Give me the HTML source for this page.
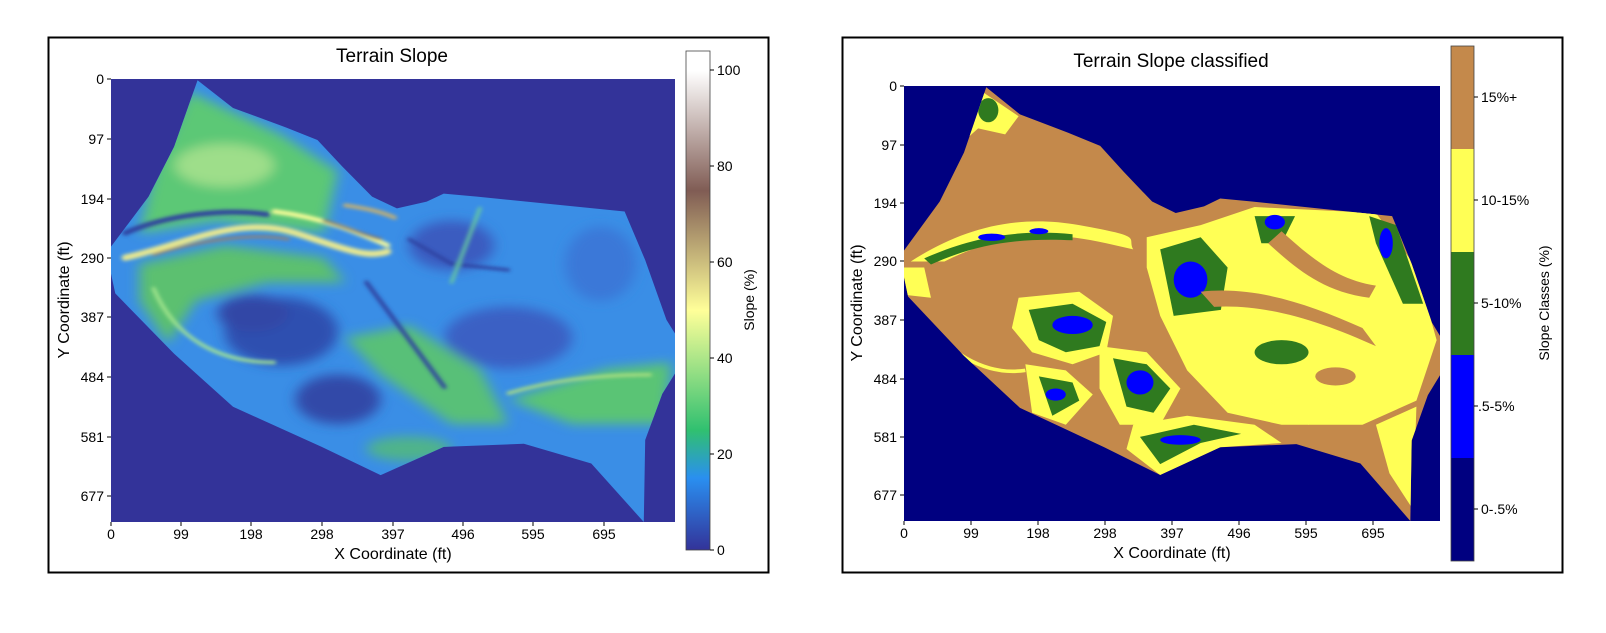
<!DOCTYPE html>
<html><head><meta charset="utf-8"><style>
body{margin:0;background:#fff;width:1606px;height:633px;overflow:hidden;font-family:"Liberation Sans",sans-serif;}
.a{position:absolute;}
</style></head><body>
<svg class="a" style="left:0;top:0" width="1606" height="633">
<rect x="48.5" y="37.5" width="720" height="535" fill="none" stroke="#000" stroke-width="2"/>
<rect x="842.5" y="37.5" width="720" height="535" fill="none" stroke="#000" stroke-width="2"/>
<defs>
<linearGradient id="terr" x1="0" y1="1" x2="0" y2="0">
<stop offset="0" stop-color="#333399"/><stop offset="0.144" stop-color="#2a8ff0"/>
<stop offset="0.24" stop-color="#30c070"/><stop offset="0.48" stop-color="#ffff99"/>
<stop offset="0.72" stop-color="#805c54"/><stop offset="0.96" stop-color="#ffffff"/><stop offset="1" stop-color="#ffffff"/>
</linearGradient>
</defs>
<rect x="686" y="51" width="24" height="499" fill="url(#terr)" stroke="#444" stroke-width="0.8"/>
<g stroke="#000" stroke-width="1">
<line x1="710" y1="550" x2="714" y2="550"/><line x1="710" y1="454" x2="714" y2="454"/>
<line x1="710" y1="358" x2="714" y2="358"/><line x1="710" y1="262" x2="714" y2="262"/>
<line x1="710" y1="166" x2="714" y2="166"/><line x1="710" y1="70" x2="714" y2="70"/>
</g>
<rect x="1451" y="46" width="23" height="103" fill="#c4894b"/>
<rect x="1451" y="149" width="23" height="103" fill="#ffff55"/>
<rect x="1451" y="252" width="23" height="103" fill="#2f7a1f"/>
<rect x="1451" y="355" width="23" height="103" fill="#0000ff"/>
<rect x="1451" y="458" width="23" height="103" fill="#000080"/>
<rect x="1451" y="46" width="23" height="515" fill="none" stroke="#444" stroke-width="0.8"/>
<g stroke="#000" stroke-width="1">
<line x1="1474" y1="97" x2="1478" y2="97"/><line x1="1474" y1="200" x2="1478" y2="200"/>
<line x1="1474" y1="303" x2="1478" y2="303"/><line x1="1474" y1="406" x2="1478" y2="406"/>
<line x1="1474" y1="509" x2="1478" y2="509"/>
</g>
</svg>

<!-- left plot -->
<svg class="a" style="left:111px;top:79px" width="564" height="443" viewBox="0 0 795 719" preserveAspectRatio="none">
<defs>
<clipPath id="sh"><polygon points="122,2 172,47 243,77 291,99 326,142 368,191 403,210 445,199 469,186 516,191 724,215 753,294 783,391 795,413 795,478 777,511 753,586 751,719 677,624 582,592 469,597 380,643 297,597 172,532 89,446 6,348 0,316 0,272 53,191 89,110"/></clipPath>
<filter id="bl"><feGaussianBlur stdDeviation="9"/></filter>
<filter id="bl2"><feGaussianBlur stdDeviation="3"/></filter>
</defs>
<rect width="795" height="719" fill="#333399"/>
<g clip-path="url(#sh)">
<rect width="795" height="719" fill="#3a8ee6"/>
<g filter="url(#bl)">
<polygon points="110,20 240,90 320,150 300,250 150,230 40,250 60,150" fill="#5cc876"/>
<ellipse cx="160" cy="140" rx="70" ry="35" fill="#9ede8a"/>
<polygon points="40,300 160,270 300,290 330,330 220,330 120,360 80,430 40,360" fill="#5cc070"/>
<ellipse cx="240" cy="410" rx="80" ry="55" fill="#2f4fb0"/>
<ellipse cx="200" cy="380" rx="50" ry="30" fill="#3346a6"/>
<ellipse cx="480" cy="270" rx="60" ry="40" fill="#3a5bc0"/>
<ellipse cx="560" cy="420" rx="90" ry="50" fill="#3a60c4"/>
<ellipse cx="320" cy="520" rx="60" ry="40" fill="#3348a8"/>
<polygon points="330,420 420,400 520,470 560,560 480,560 380,480" fill="#58c078"/>
<polygon points="560,520 700,470 790,460 780,560 650,560" fill="#5ac474"/>
<ellipse cx="420" cy="600" rx="60" ry="20" fill="#4fb48a"/>
<ellipse cx="690" cy="300" rx="50" ry="60" fill="#3a78d8"/>
</g>
<g filter="url(#bl2)" fill="none" stroke-linecap="round">
<path d="M20,290 C100,270 180,220 260,250 S360,290 390,280" stroke="#e8e890" stroke-width="10"/>
<path d="M60,285 C130,260 200,250 250,260" stroke="#a08060" stroke-width="4"/>
<path d="M230,215 C300,225 350,250 390,270" stroke="#ffff99" stroke-width="7"/>
<path d="M300,230 C330,240 360,255 380,260" stroke="#8a6a58" stroke-width="4"/>
<path d="M330,205 C360,210 380,215 400,225" stroke="#c8b070" stroke-width="6"/>
<path d="M60,340 C90,420 150,460 230,460" stroke="#a8e890" stroke-width="5"/>
<path d="M20,250 C80,220 160,210 220,220" stroke="#2f3f9f" stroke-width="8"/>
<path d="M360,330 L470,500" stroke="#2f3f9f" stroke-width="6"/>
<path d="M420,260 L480,300 L560,310" stroke="#2f3f9f" stroke-width="5"/>
<path d="M520,210 L480,330" stroke="#66c8a0" stroke-width="5"/>
<path d="M560,510 C620,490 680,480 760,480" stroke="#aee080" stroke-width="5"/>
</g>
</g>
</svg>

<!-- right plot -->
<svg class="a" style="left:904px;top:86px" width="536" height="435" viewBox="0 0 795 719" preserveAspectRatio="none">
<defs>
<clipPath id="sh2"><polygon points="122,2 172,47 243,77 291,99 326,142 368,191 403,210 445,199 469,186 516,191 724,215 753,294 783,391 795,413 795,478 777,511 753,586 751,719 677,624 582,592 469,597 380,643 297,597 172,532 89,446 6,348 0,316 0,272 53,191 89,110"/></clipPath>
</defs>
<rect width="795" height="719" fill="#000080"/>
<g clip-path="url(#sh2)">
<rect width="795" height="719" fill="#c4894b"/>
<polygon points="110,5 170,50 150,80 110,70 80,100 100,40" fill="#ffff55"/>
<ellipse cx="125" cy="40" rx="15" ry="20" fill="#2f7a1f"/>
<path d="M10,290 C80,240 160,210 260,230 S330,250 340,270 L300,260 C220,240 150,240 60,290 Z" fill="#ffff55"/>
<path d="M30,285 C90,255 160,235 250,245 L250,255 C160,250 100,265 40,295 Z" fill="#2f7a1f"/>
<ellipse cx="130" cy="250" rx="20" ry="6" fill="#0000ff"/><ellipse cx="200" cy="240" rx="14" ry="5" fill="#0000ff"/>
<polygon points="0,300 30,300 40,350 0,345" fill="#ffff55"/>
<polygon points="170,350 260,340 310,380 300,440 250,460 190,440 160,400" fill="#ffff55"/>
<polygon points="185,370 250,360 300,390 290,430 240,440 200,420" fill="#2f7a1f"/>
<ellipse cx="250" cy="395" rx="30" ry="15" fill="#0000ff"/>
<polygon points="180,460 240,470 280,510 240,560 190,540" fill="#ffff55"/>
<polygon points="200,480 250,490 260,520 220,545" fill="#2f7a1f"/>
<ellipse cx="225" cy="510" rx="15" ry="10" fill="#0000ff"/>
<polygon points="290,430 360,440 410,500 380,560 320,560 290,500" fill="#ffff55"/>
<polygon points="310,450 360,460 395,500 370,540 330,530" fill="#2f7a1f"/>
<ellipse cx="350" cy="490" rx="20" ry="20" fill="#0000ff"/>
<polygon points="360,250 440,230 520,200 700,210 760,300 790,420 760,520 680,560 560,560 480,540 420,470 380,380 360,300" fill="#ffff55"/>
<polygon points="380,270 440,250 480,300 470,370 400,380" fill="#2f7a1f"/>
<ellipse cx="425" cy="320" rx="25" ry="30" fill="#0000ff"/>
<polygon points="520,215 580,215 560,260 530,260" fill="#2f7a1f"/>
<ellipse cx="550" cy="225" rx="15" ry="12" fill="#0000ff"/>
<polygon points="690,215 730,230 770,360 740,360 700,260" fill="#2f7a1f"/>
<ellipse cx="715" cy="260" rx="10" ry="25" fill="#0000ff"/>
<path d="M440,340 C520,330 600,360 680,400 L700,430 C620,390 540,360 460,365 Z" fill="#c4894b"/>
<path d="M560,240 C600,280 640,320 700,330 L690,350 C620,340 580,300 540,260 Z" fill="#c4894b"/>
<ellipse cx="560" cy="440" rx="40" ry="20" fill="#2f7a1f"/>
<ellipse cx="640" cy="480" rx="30" ry="15" fill="#c4894b"/>
<polygon points="340,560 420,545 520,560 560,590 470,597 380,643 330,600" fill="#ffff55"/>
<polygon points="350,580 430,560 500,575 440,590 380,625" fill="#2f7a1f"/>
<ellipse cx="410" cy="585" rx="30" ry="8" fill="#0000ff"/>
<polygon points="700,560 760,530 755,700 720,640" fill="#ffff55"/>
<polygon points="540,520 600,510 660,540 600,560" fill="#ffff55"/>
<path d="M20,370 C60,440 120,480 180,470" stroke="#ffff55" stroke-width="6" fill="none"/>
<path d="M440,170 L700,210" stroke="#ffff55" stroke-width="6" fill="none"/>
</g>
</svg>

<svg class="a" style="left:0;top:0" width="1606" height="633">
<g stroke="#000" stroke-width="1">
<line x1="111" y1="522" x2="111" y2="526"/><line x1="181" y1="522" x2="181" y2="526"/><line x1="251" y1="522" x2="251" y2="526"/><line x1="322" y1="522" x2="322" y2="526"/><line x1="393" y1="522" x2="393" y2="526"/><line x1="463" y1="522" x2="463" y2="526"/><line x1="533" y1="522" x2="533" y2="526"/><line x1="604" y1="522" x2="604" y2="526"/>
<line x1="107" y1="79" x2="111" y2="79"/><line x1="107" y1="139" x2="111" y2="139"/><line x1="107" y1="199" x2="111" y2="199"/><line x1="107" y1="258" x2="111" y2="258"/><line x1="107" y1="317" x2="111" y2="317"/><line x1="107" y1="377" x2="111" y2="377"/><line x1="107" y1="437" x2="111" y2="437"/><line x1="107" y1="496" x2="111" y2="496"/>
<line x1="904" y1="521" x2="904" y2="525"/><line x1="971" y1="521" x2="971" y2="525"/><line x1="1038" y1="521" x2="1038" y2="525"/><line x1="1105" y1="521" x2="1105" y2="525"/><line x1="1172" y1="521" x2="1172" y2="525"/><line x1="1239" y1="521" x2="1239" y2="525"/><line x1="1306" y1="521" x2="1306" y2="525"/><line x1="1373" y1="521" x2="1373" y2="525"/>
<line x1="900" y1="86" x2="904" y2="86"/><line x1="900" y1="145" x2="904" y2="145"/><line x1="900" y1="203" x2="904" y2="203"/><line x1="900" y1="261" x2="904" y2="261"/><line x1="900" y1="320" x2="904" y2="320"/><line x1="900" y1="379" x2="904" y2="379"/><line x1="900" y1="437" x2="904" y2="437"/><line x1="900" y1="495" x2="904" y2="495"/>
</g>
<g font-family="Liberation Sans, sans-serif" font-size="14" fill="#000">
<g text-anchor="middle">
<text x="111" y="539">0</text><text x="181" y="539">99</text><text x="251" y="539">198</text><text x="322" y="539">298</text><text x="393" y="539">397</text><text x="463" y="539">496</text><text x="533" y="539">595</text><text x="604" y="539">695</text>
<text x="904" y="538">0</text><text x="971" y="538">99</text><text x="1038" y="538">198</text><text x="1105" y="538">298</text><text x="1172" y="538">397</text><text x="1239" y="538">496</text><text x="1306" y="538">595</text><text x="1373" y="538">695</text>
</g>
<g text-anchor="end">
<text x="104" y="84">0</text><text x="104" y="144">97</text><text x="104" y="204">194</text><text x="104" y="263">290</text><text x="104" y="322">387</text><text x="104" y="382">484</text><text x="104" y="442">581</text><text x="104" y="501">677</text>
<text x="897" y="91">0</text><text x="897" y="150">97</text><text x="897" y="208">194</text><text x="897" y="266">290</text><text x="897" y="325">387</text><text x="897" y="384">484</text><text x="897" y="442">581</text><text x="897" y="500">677</text>
</g>
<text x="717" y="555">0</text><text x="717" y="459">20</text><text x="717" y="363">40</text><text x="717" y="267">60</text><text x="717" y="171">80</text><text x="717" y="75">100</text>
<text x="1481" y="102">15%+</text><text x="1481" y="205">10-15%</text><text x="1481" y="308">5-10%</text><text x="1478" y="411">.5-5%</text><text x="1481" y="514">0-.5%</text>
</g>
<g font-family="Liberation Sans, sans-serif" fill="#000" text-anchor="middle">
<text x="392" y="62" font-size="19">Terrain Slope</text>
<text x="1171" y="67" font-size="19">Terrain Slope classified</text>
<text x="393" y="559" font-size="16">X Coordinate (ft)</text>
<text x="1172" y="558" font-size="16">X Coordinate (ft)</text>
<text transform="translate(69,300) rotate(-90)" font-size="16">Y Coordinate (ft)</text>
<text transform="translate(862,303) rotate(-90)" font-size="16">Y Coordinate (ft)</text>
<text transform="translate(754,300) rotate(-90)" font-size="14">Slope (%)</text>
<text transform="translate(1549,303) rotate(-90)" font-size="14">Slope Classes (%)</text>
</g>
</svg>
</body></html>
